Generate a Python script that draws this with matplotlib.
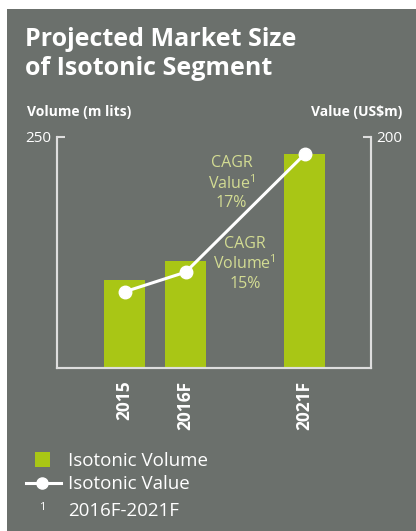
import matplotlib.pyplot as plt

plt.rcParams['font.family'] = ['Open Sans', 'DejaVu Sans']
plt.rcParams['mathtext.fontset'] = 'custom'
plt.rcParams['mathtext.rm'] = 'Open Sans'

# data
years = ['2015', '2016F', '2021F']
volume = [95, 116, 232]      # m lits, left axis
value = [66, 83, 185]        # US$m, right axis
x_pos = [0, 1, 2.95]

bg = '#6b706c'
green = '#a9c615'
axis_col = '#dedede'
cagr_col = '#d3dc93'

fig = plt.figure(figsize=(4.16, 5.31), dpi=100)
fig.patch.set_facecolor('white')
# grey panel with the thin white margin top / left
fig.patches.append(plt.Rectangle((7 / 416, 0), 1, 1 - 9 / 531, transform=fig.transFigure,
                                 facecolor=bg, edgecolor='none', zorder=-10))

ax = fig.add_axes([57 / 416, 1 - 368 / 531, (371 - 57) / 416, (368 - 137) / 531])
ax.patch.set_alpha(0)
ax.bar(x_pos, volume, width=0.67, color=green, zorder=2)
ax.set_xlim(-1.11, 4.04)
ax.set_ylim(0, 250)
ax.set_yticks([250])
ax.set_yticklabels(['250'], color='white', fontsize=11)
ax.set_xticks(x_pos)
ax.set_xticklabels(years, rotation=90, color='white', fontsize=12.5, fontweight='bold')
ax.tick_params(axis='x', length=0, pad=9)
ax.tick_params(axis='y', direction='in', length=6, width=1.5, color=axis_col, pad=4)

ax2 = ax.twinx()
ax2.plot(x_pos, value, color='white', lw=2.2, marker='o', ms=9, zorder=3)
ax2.set_ylim(0, 200)
ax2.set_yticks([200])
ax2.set_yticklabels(['200'], color='white', fontsize=11)
ax2.tick_params(axis='y', direction='in', length=6, width=1.5, color=axis_col, pad=4)

for a in (ax, ax2):
    a.spines['top'].set_visible(False)
    for s in ('left', 'right', 'bottom'):
        a.spines[s].set_color(axis_col)
        a.spines[s].set_linewidth(1.5)

# CAGR annotations
ax.text(1.75, 200, 'CAGR\nValue$^{1}$\n17%', color=cagr_col, fontsize=11.5,
        ha='center', va='center', linespacing=1.2)
ax.text(1.97, 113, 'CAGR\nVolume$^{1}$\n15%', color=cagr_col, fontsize=11.5,
        ha='center', va='center', linespacing=1.2)

# titles
fig.text(25 / 416, 1 - 54 / 531, 'Projected Market Size\nof Isotonic Segment', color='white',
         fontsize=18, fontweight='bold', ha='left', va='center', linespacing=1.2)
fig.text(27 / 416, 1 - 112 / 531, 'Volume (m lits)', color='white', fontsize=10,
         fontweight='bold', ha='left', va='center')
fig.text(402 / 416, 1 - 112 / 531, 'Value (US$m)', color='white', fontsize=10,
         fontweight='bold', ha='right', va='center')

# legend drawn by hand
fig.patches.append(plt.Rectangle((35 / 416, 1 - 467 / 531), 15 / 416, 15 / 531,
                                 transform=fig.transFigure, facecolor=green, edgecolor='none'))
fig.lines.append(plt.Line2D([26 / 416, 61 / 416], [1 - 483 / 531] * 2, transform=fig.transFigure,
                            color='white', lw=2.2))
fig.lines.append(plt.Line2D([42 / 416], [1 - 483 / 531], transform=fig.transFigure,
                            color='white', marker='o', ms=8))
leg_y = [461, 484, 511]
leg_txt = ['Isotonic Volume', 'Isotonic Value', '2016F-2021F']
for yy, t in zip(leg_y, leg_txt):
    fig.text(68 / 416, 1 - yy / 531, t, color='white', fontsize=13.5, ha='left', va='center')
fig.text(42 / 416, 1 - 508 / 531, '1', color='white', fontsize=8, ha='center', va='center')

fig.savefig('out.png', dpi=100, facecolor=fig.get_facecolor())
